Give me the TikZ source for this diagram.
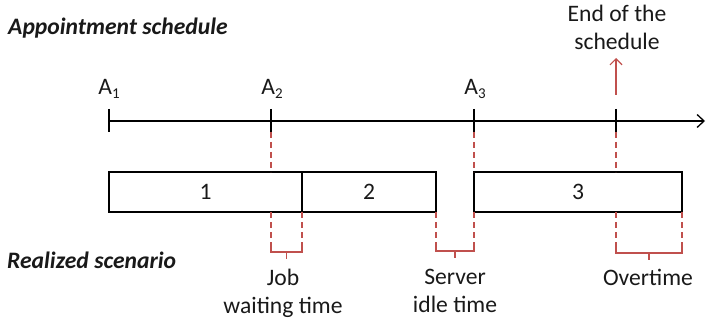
\documentclass[tikz,border=0pt]{standalone}
\usepackage{fontspec}
\setmainfont{Carlito}
\usetikzlibrary{arrows.meta}
\definecolor{markred}{RGB}{192,80,77}
\newcommand{\sz}{\fontsize{23.6}{28}\selectfont}
\newcommand{\Asub}[1]{A\raisebox{-4pt}{\fontsize{15}{15}\selectfont #1}}
\tikzset{
  txt/.style={font=\sz, inner sep=0pt, text=black!90},
  heading/.style={font=\sz\bfseries\itshape, inner sep=0pt, anchor=base west, text=black!90},
  jobbox/.style={draw=black, line width=1.4pt, minimum height=40pt, inner sep=0pt, font=\sz, text=black!90},
  axisline/.style={line width=1.4pt, -{Straight Barb[length=7pt,width=13pt,line width=1.3pt]}},
  tickmark/.style={line width=1.4pt},
  guide/.style={draw=markred, line width=1.2pt, dash pattern=on 6pt off 4pt},
  brace/.style={draw=markred, line width=1.2pt},
  endarrow/.style={draw=markred, line width=1.3pt, -{Straight Barb[length=6pt,width=12pt,line width=1.2pt]}}
}
\begin{document}
\begin{tikzpicture}[x=1pt, y=-1pt]
\useasboundingbox (0,0) rectangle (706,323);

% headings
\node[heading] (h1) at (8,35) {Appointment schedule};
\node[heading] (h2) at (7,268) {Realized scenario};

% time axis with appointment ticks
\coordinate (axs) at (109,121);
\coordinate (axe) at (705,121);
\draw[axisline] (axs) -- (axe);
\foreach \n/\x in {t1/109, t2/271, t3/474, t4/616}{
  \coordinate (\n top) at (\x,109);
  \coordinate (\n bot) at (\x,132);
  \draw[tickmark] (\n top) -- (\n bot);
}
\node[txt, anchor=base] (a1) at (109,95) {\Asub{1}};
\node[txt, anchor=base] (a2) at (272,95) {\Asub{2}};
\node[txt, anchor=base] (a3) at (475,95) {\Asub{3}};

% end of the schedule (base anchor sits on the last line)
\node[txt, align=center, anchor=base] (eos) at (617,50) {End of the\\schedule};
\coordinate (eosfoot) at (616,95);
\coordinate (eostip) at (616,58);
\draw[endarrow] (eosfoot) -- (eostip);

% realized jobs
\node[jobbox, minimum width=193pt] (b1) at (205.5,192) {1};
\node[jobbox, minimum width=134pt] (b2) at (369,192) {2};
\node[jobbox, minimum width=208pt] (b3) at (578,192) {3};

% guides from the schedule down to the realized jobs
\draw[guide] (t2bot) -- (271,172);
\draw[guide] (t3bot) -- (474,172);
\draw[guide] (t4bot) -- (616,172);

% job waiting time
\coordinate (w1) at (271,212);
\coordinate (w2) at (302,212);
\draw[guide] (w1) -- (271,244);
\draw[guide] (w2) -- (302,244);
\draw[brace] (271,244) -- (271,252) -- (302,252) -- (302,244);
\draw[brace] (286.5,252) -- (286.5,259);
\node[txt, align=center, anchor=base] (wt) at (283,313) {Job\\waiting time};

% server idle time
\coordinate (i1) at (436,212);
\coordinate (i2) at (474,212);
\draw[guide] (i1) -- (436,244);
\draw[guide] (i2) -- (474,244);
\draw[brace] (436,244) -- (436,251) -- (474,251) -- (474,244);
\draw[brace] (455,251) -- (455,258);
\node[txt, align=center, anchor=base] (it) at (455,312) {Server\\idle time};

% overtime
\coordinate (o1) at (616,212);
\coordinate (o2) at (682,212);
\draw[guide] (o1) -- (616,244);
\draw[guide] (o2) -- (682,244);
\draw[brace] (616,244) -- (616,253) -- (682,253) -- (682,244);
\draw[brace] (649,253) -- (649,260);
\node[txt, anchor=base] (ot) at (648,285) {Overtime};
\end{tikzpicture}
\end{document}
